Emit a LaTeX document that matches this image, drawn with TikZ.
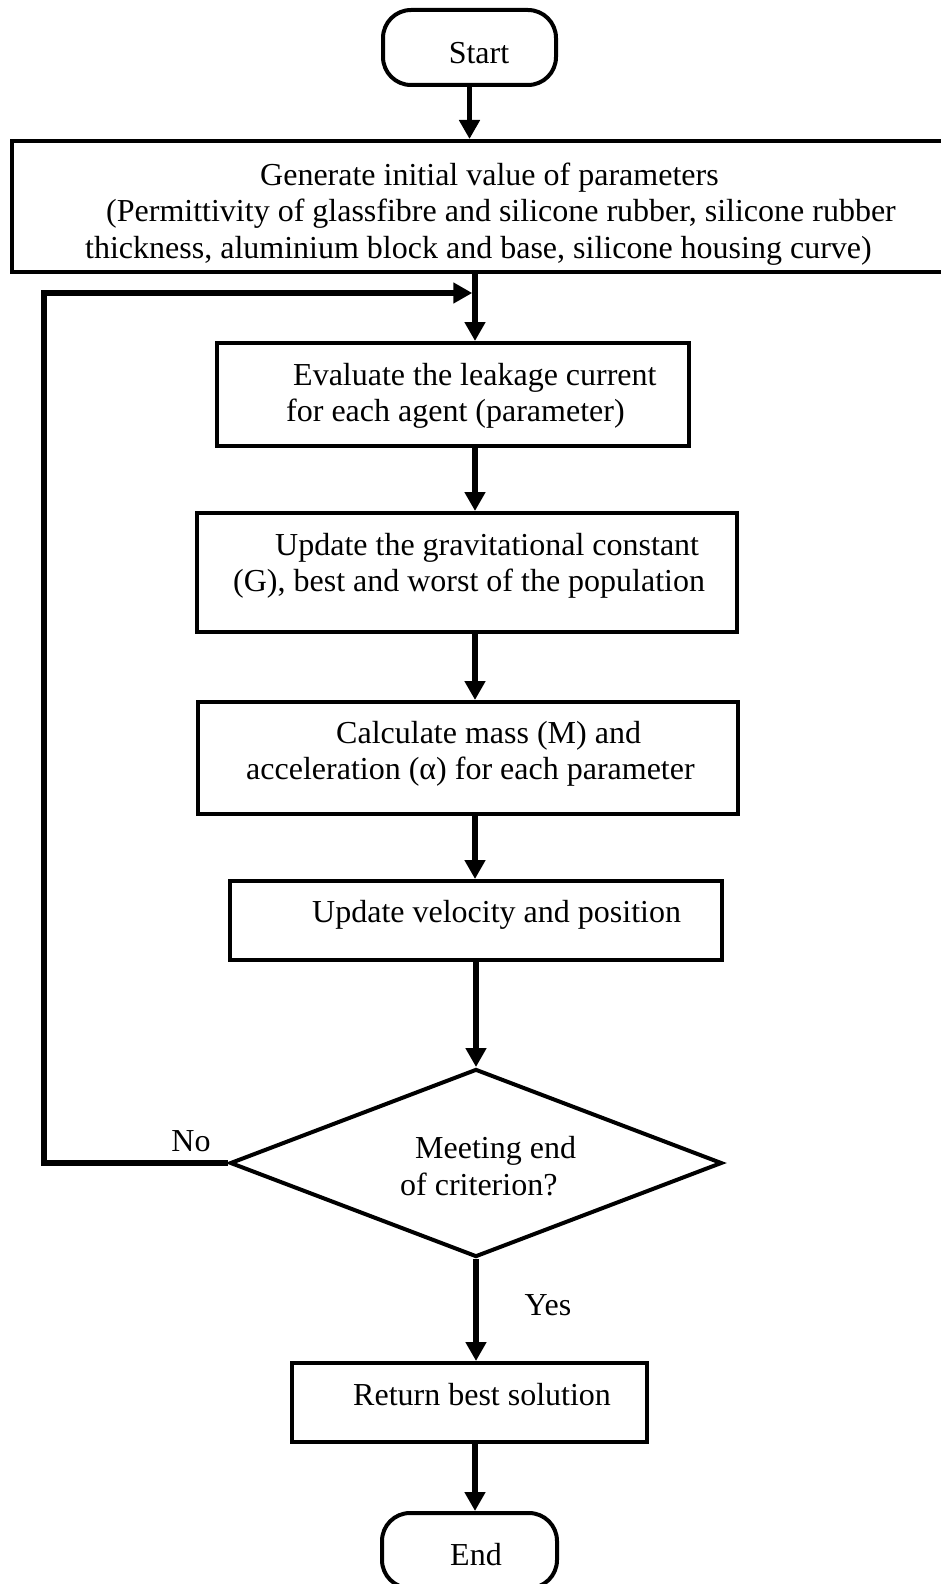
\documentclass[tikz,border=0pt]{standalone}
\usepackage{fontspec}
\setmainfont{Liberation Serif}
\usetikzlibrary{shapes.geometric,arrows.meta}
\begin{document}
\begin{tikzpicture}[x=1pt,y=-1pt,
  txt/.style={font=\fontsize{32}{36.5}\selectfont, inner sep=0pt, align=left},
  box/.style={draw, line width=4pt, rectangle, inner sep=0pt},
  term/.style={draw, line width=4pt, rectangle, rounded corners=28pt, inner sep=0pt},
  decision/.style={draw, line width=4pt, diamond, inner sep=0pt},
  arr/.style={line width=5.5pt, -{Triangle[length=19pt,width=20pt]}},
]
\useasboundingbox (0,0) rectangle (940,1584);
% shapes
\node[term, minimum width=173pt, minimum height=75pt] (start) at (469.5,47.5) {};
\node[box, minimum width=936pt, minimum height=131pt] (gen) at (480,206.5) {};
\node[box, minimum width=472pt, minimum height=103pt] (eval) at (453,394.5) {};
\node[box, minimum width=540pt, minimum height=119pt] (updg) at (467,572.5) {};
\node[box, minimum width=540pt, minimum height=112pt] (calc) at (468,758) {};
\node[box, minimum width=492pt, minimum height=79pt] (updv) at (476,920.5) {};
\node[decision, minimum width=492pt, minimum height=188pt] (dec) at (476,1163) {};
\node[box, minimum width=355pt, minimum height=79pt] (ret) at (469.5,1402.5) {};
\node[term, minimum width=175pt, minimum height=75pt] (end) at (469.5,1550.5) {};
% texts
\node[txt] (starttxt) at (479,53) {Start};
\node[txt, anchor=west] (gentxt) at (85,214) {\hspace*{175pt}Generate initial value of parameters\\\hspace*{21pt}(Permittivity of glassfibre and silicone rubber, silicone rubber\\thickness, aluminium block and base, silicone housing curve)};
\node[txt, anchor=west] (evaltxt) at (286,396) {\hspace*{7pt}Evaluate the leakage current\\for each agent (parameter)};
\node[txt, anchor=west] (updgtxt) at (233,566) {\hspace*{42pt}Update the gravitational constant\\(G), best and worst of the population};
\node[txt, anchor=west] (calctxt) at (246,754) {\hspace*{90pt}Calculate mass (M) and\\acceleration (α) for each parameter};
\node[txt, anchor=west] (updvtxt) at (312,915) {Update velocity and position};
\node[txt, anchor=west] (dectxt) at (400,1166) {\hspace*{15pt}Meeting end\\of criterion?};
\node[txt, anchor=west] (rettxt) at (353,1395) {Return best solution};
\node[txt] (endtxt) at (476,1555) {End};
\node[txt] (no) at (191,1141) {No};
\node[txt] (yes) at (548,1305) {Yes};
% connectors
\coordinate (spine) at (475,0);
\coordinate (loopc) at (44,293);
\draw[arr] (start.south) -- (start.south |- gen.north);
\draw[arr] (gen.south -| spine) -- (eval.north -| spine);
\draw[arr] (dec.west) -| (loopc) -- ([xshift=-2.75pt]loopc -| spine);
\draw[arr] (eval.south -| spine) -- (updg.north -| spine);
\draw[arr] (updg.south -| spine) -- (calc.north -| spine);
\draw[arr] (calc.south -| spine) -- (updv.north -| spine);
\draw[arr] (updv.south) -- (dec.north);
\draw[arr] (dec.south) -- (dec.south |- ret.north);
\draw[arr] (ret.south -| spine) -- (end.north -| spine);
\end{tikzpicture}
\end{document}
